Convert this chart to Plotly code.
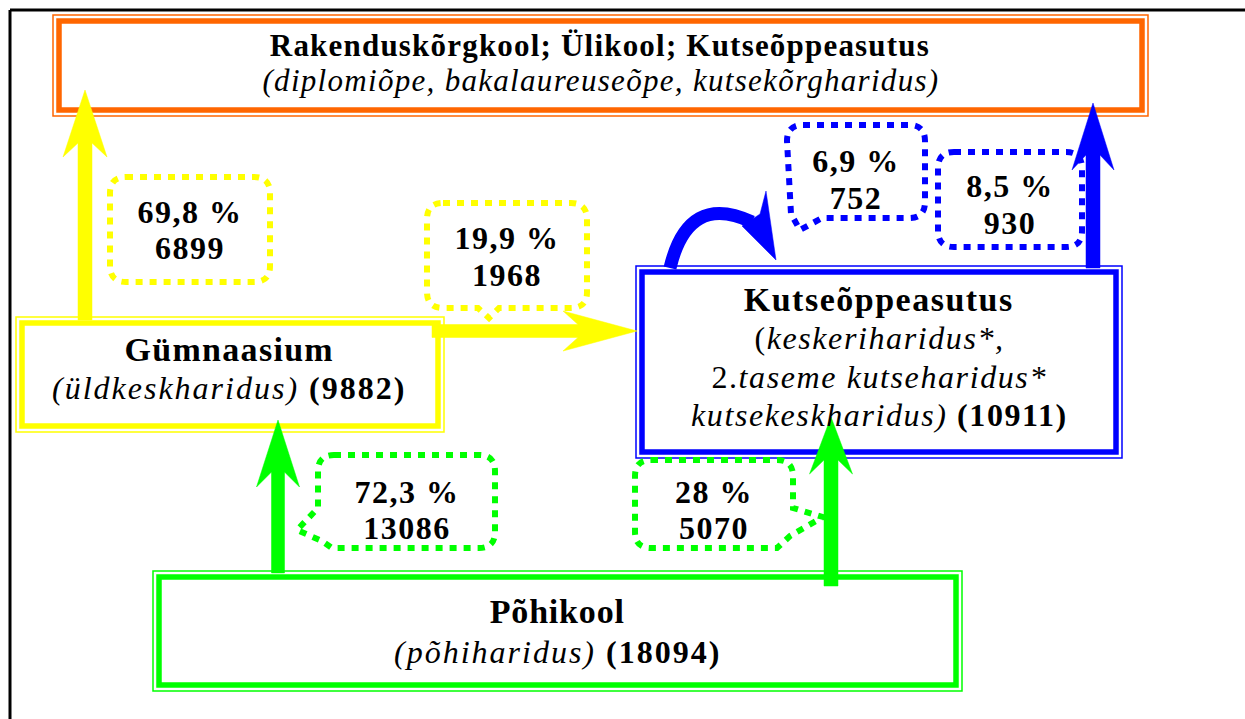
import json
import plotly.graph_objects as go

# ---------------- data ----------------
node_titles = ["Rakenduskõrgkool; Ülikool; Kutseõppeasutus", "Gümnaasium",
               "Kutseõppeasutus", "Põhikool"]
node_levels = ["diplomiõpe, bakalaureuseõpe, kutsekõrgharidus", "üldkeskharidus",
               "keskeriharidus*,|2.|taseme kutseharidus*|kutsekeskharidus", "põhiharidus"]
node_totals = [None, 9882, 10911, 18094]

flow_shares = ["69,8", "19,9", "6,9", "8,5", "72,3", "28"]
flow_counts = [6899, 1968, 752, 930, 13086, 5070]

# ---------------- styling / geometry ----------------
ORANGE, YELLOW, BLUE, GREEN = "#FF6600", "#FFFF00", "#0000FF", "#00FF00"
node_colors = [ORANGE, YELLOW, BLUE, GREEN]
node_boxes = [(53, 15, 1148, 116), (16, 317, 444, 432), (636, 266, 1122, 458), (153, 571, 962, 691)]
flow_colors = [YELLOW, YELLOW, BLUE, BLUE, GREEN, GREEN]
bubble_boxes = [(110, 177, 270, 282), (427, 203, 587, 308), (787, 125, 925, 218),
                (938, 152, 1082, 247), (318, 455, 495, 548), (635, 460, 793, 548)]
bubble_text_y = [(212, 248), (238, 275), (161, 198), (186, 223), (492, 528), (492, 528)]
FONT = "Liberation Serif"
W, H = 1245, 719

shapes = []
annotations = []
spacing = []

# outer black frame (left + top)
shapes.append(dict(type="line", x0=10, y0=10, x1=1250, y1=10, line=dict(color="black", width=3)))
shapes.append(dict(type="line", x0=10, y0=10, x1=10, y1=725, line=dict(color="black", width=3)))


def double_box(b, color):
    x0, y0, x1, y1 = b
    shapes.append(dict(type="rect", x0=x0, y0=y0, x1=x1, y1=y1, line=dict(color=color, width=1.5)))
    d = 6
    shapes.append(dict(type="rect", x0=x0 + d, y0=y0 + d, x1=x1 - d, y1=y1 - d,
                       line=dict(color=color, width=5.5)))


for b, c in zip(node_boxes, node_colors):
    double_box(b, c)


def poly(pts, color):
    p = "M " + " L ".join(f"{x},{y}" for x, y in pts) + " Z"
    shapes.append(dict(type="path", path=p, fillcolor=color, line=dict(color=color, width=0.5)))


def up_arrow(cx, y_bottom, y_tip, half_shaft, half_head, barb_y, notch_y, color):
    poly([(cx, y_tip), (cx + half_head, barb_y), (cx + half_shaft, notch_y), (cx + half_shaft, y_bottom),
          (cx - half_shaft, y_bottom), (cx - half_shaft, notch_y), (cx - half_head, barb_y)], color)


# arrows
up_arrow(85, 320, 90, 7, 22, 157, 143, YELLOW)          # Gümnaasium -> kõrg
up_arrow(1093, 268, 103, 7, 21, 170, 155, BLUE)         # Kutse -> kõrg
up_arrow(278, 573, 420, 6.5, 21.5, 487, 472, GREEN)     # Põhikool -> Gümnaasium
up_arrow(831, 586, 417, 7, 21.5, 474, 460, GREEN)       # Põhikool -> Kutse
# Gümnaasium -> Kutse (right)
poly([(637, 331), (563, 311), (578, 324.5), (432, 324.5), (432, 337.5), (578, 337.5), (563, 351)], YELLOW)
# Kutse -> Kutse (curved)
shapes.append(dict(type="path", path="M 670,268 Q 688,192 752,222",
                   line=dict(color=BLUE, width=13)))
poly([(766, 191), (776, 260), (742, 226), (760, 214)], BLUE)


def bubble(b, color, tail=None, r=16):
    x0, y0, x1, y1 = b
    seg = [f"M {x0 + r},{y0}", f"L {x1 - r},{y0}", f"Q {x1},{y0} {x1},{y0 + r}"]
    if tail and tail[0] == "right":
        seg += [f"L {x},{y}" for x, y in tail[1]] + [f"L {x1 - r},{y1}"]
    else:
        seg += [f"L {x1},{y1 - r}", f"Q {x1},{y1} {x1 - r},{y1}"]
    if tail and tail[0] == "bottom":
        seg += [f"L {x},{y}" for x, y in tail[1]]
        seg += [f"L {x0 + r},{y1}", f"Q {x0},{y1} {x0},{y1 - r}"]
    elif tail and tail[0] in ("left", "bl"):
        seg += [f"L {x},{y}" for x, y in tail[1]]
    else:
        seg += [f"L {x0 + r},{y1}", f"Q {x0},{y1} {x0},{y1 - r}"]
    seg += [f"L {x0},{y0 + r}", f"Q {x0},{y0} {x0 + r},{y0}", "Z"]
    shapes.append(dict(type="path", path=" ".join(seg),
                       line=dict(color=color, width=6, dash="7px,7px")))


tails = [None,
         ("bottom", [(499, 308), (489, 318), (478, 308)]),
         ("bl", [(822, 218), (800, 230), (791, 214)]),
         None,
         ("left", [(332, 548), (322, 541), (297, 530), (318, 508)]),
         ("right", [(793, 508), (823, 517), (790, 536)])]

for b, c, t in zip(bubble_boxes, flow_colors, tails):
    bubble(b, c, t)


# ---------------- texts ----------------
def txt(x, y, s, size=32, ls=1.5):
    annotations.append(dict(x=x, y=y, xref="x", yref="y", text=s, showarrow=False,
                            xanchor="center", yanchor="middle",
                            font=dict(family=FONT, size=size, color="black")))
    spacing.append(ls)


# flows
for (x0, y0, x1, y1), (ya, yb), sh, cnt in zip(bubble_boxes, bubble_text_y, flow_shares, flow_counts):
    cx = (x0 + x1) / 2
    txt(cx, ya, f"<b>{sh} %</b>", 32, 1.5)
    txt(cx, yb, f"<b>{cnt}</b>", 32, 1.5)

# higher education box
txt(600, 45, f"<b>{node_titles[0]}</b>", 31, 1.2)
txt(601, 80, f"<i>({node_levels[0]})</i>", 31, 1.3)
# Gümnaasium
txt(229, 349, f"<b>{node_titles[1]}</b>", 34, 1.3)
txt(229, 388, f"<i>({node_levels[1]})</i> <b>({node_totals[1]})</b>", 32, 2.0)
# Kutseõppeasutus
kl = node_levels[2].split("|")
txt(879, 299, f"<b>{node_titles[2]}</b>", 34, 1.5)
txt(879, 338, f"(<i>{kl[0]}</i>", 32, 1.6)
txt(879, 377, f"{kl[1]}<i>{kl[2]}</i>", 32, 1.6)
txt(879, 415, f"<i>{kl[3]})</i> <b>({node_totals[2]})</b>", 32, 1.6)
# Põhikool
txt(557, 611, f"<b>{node_titles[3]}</b>", 34, 0.8)
txt(557, 652, f"<i>({node_levels[3]})</i> <b>({node_totals[3]})</b>", 32, 2.0)

fig = go.Figure(go.Scatter(x=[], y=[]))
fig.update_layout(
    width=W, height=H, margin=dict(l=0, r=0, t=0, b=0),
    paper_bgcolor="white", plot_bgcolor="white", showlegend=False,
    xaxis=dict(range=[0, W], visible=False, fixedrange=True),
    yaxis=dict(range=[H, 0], visible=False, fixedrange=True),
    shapes=shapes, annotations=annotations,
)

post = ("document.body.style.margin='0';document.body.style.overflow='hidden';"
        "var LS=" + json.dumps(spacing) + ";"
        "document.querySelectorAll('g.annotation').forEach(function(g){"
        "var i=+g.getAttribute('data-index');var t=g.querySelector('.annotation-text');"
        "if(t&&LS[i]!==undefined){t.style.letterSpacing=LS[i]+'px';}});")
fig.write_html("out.html", config={"displayModeBar": False, "staticPlot": True}, post_script=post)
